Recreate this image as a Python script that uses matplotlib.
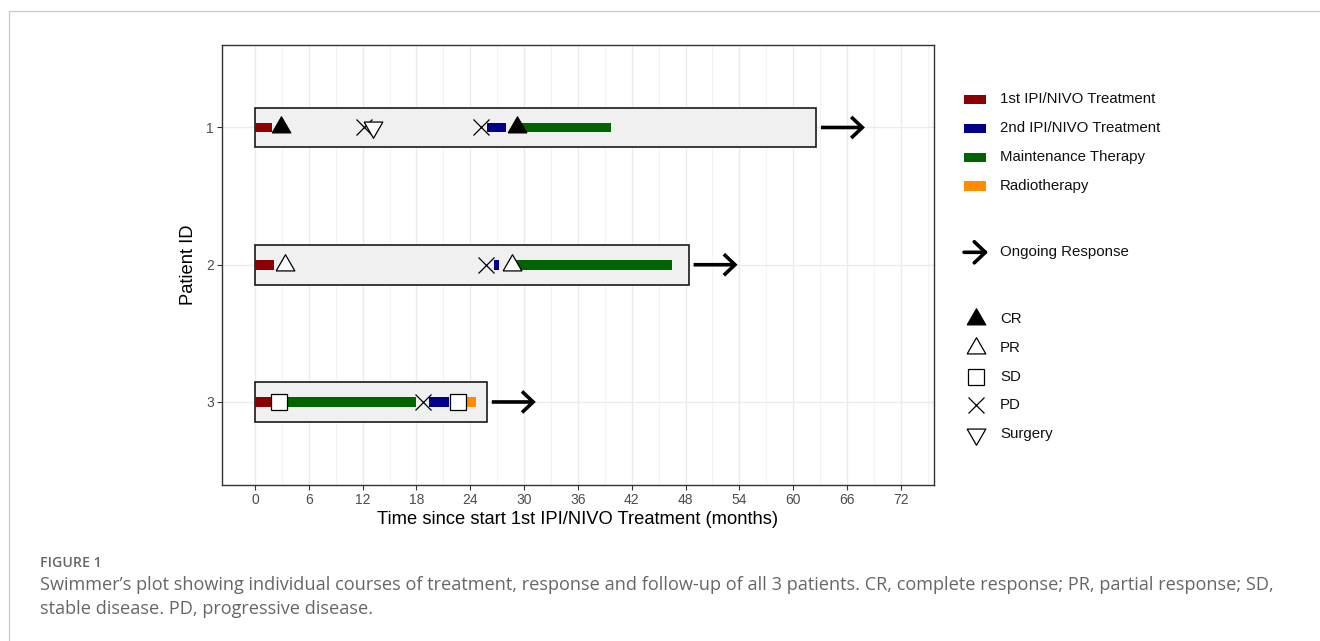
import matplotlib
matplotlib.use('Agg')
import matplotlib.pyplot as plt
from matplotlib.patches import FancyArrowPatch, Rectangle
from matplotlib.lines import Line2D

plt.rcParams['font.family'] = ['Liberation Sans', 'DejaVu Sans']

# ---------------- data ----------------
patients = [1, 2, 3]
followup_end = [62.6, 48.4, 25.9]
ongoing_patient = [1, 2, 3]
ongoing_start = [62.6, 48.4, 25.9]

ipi1_patient = [1, 2, 3]
ipi1_start = [0.0, 0.0, 0.0]
ipi1_end = [1.9, 2.1, 1.9]

ipi2_patient = [1, 2, 3]
ipi2_start = [25.9, 26.6, 19.4]
ipi2_end = [28.0, 27.2, 21.6]

maint_patient = [1, 2, 3]
maint_start = [29.2, 28.8, 3.6]
maint_end = [39.7, 46.5, 18.0]

radio_patient = [3]
radio_start = [23.5]
radio_end = [24.6]

cr_patient = [1, 1]
cr_time = [2.9, 29.2]
pr_patient = [2, 2]
pr_time = [3.3, 28.6]
sd_patient = [3, 3]
sd_time = [2.7, 22.6]
pd_patient = [1, 1, 2, 3]
pd_time = [12.1, 25.2, 25.7, 18.7]
surgery_patient = [1]
surgery_time = [13.1]

x_ticks = [0, 6, 12, 18, 24, 30, 36, 42, 48, 54, 60, 66, 72]
x_minor = [3, 9, 15, 21, 27, 33, 39, 45, 51, 57, 63, 69, 75]

treat_labels = ['1st IPI/NIVO Treatment', '2nd IPI/NIVO Treatment',
                'Maintenance Therapy', 'Radiotherapy']
treat_colors = ['#8B0000', '#00008B', '#006400', '#FF8C00']
resp_labels = ['CR', 'PR', 'SD', 'PD', 'Surgery']

# ---------------- figure ----------------
W, H = 1320, 641
fig = plt.figure(figsize=(W / 100, H / 100), dpi=100)

ax_l, ax_r, ax_t, ax_b = 222, 934, 45, 485
ax = fig.add_axes([ax_l / W, 1 - ax_b / H, (ax_r - ax_l) / W, (ax_b - ax_t) / H])

ax.set_xlim(-3.68, 75.7)
ax.set_ylim(3.605, 0.399)

# grid
ax.set_xticks(x_ticks)
ax.set_xticks(x_minor, minor=True)
ax.set_yticks(patients)
ax.grid(which='major', axis='both', color='#EBEBEB', lw=1.0, zorder=0)
ax.grid(which='minor', axis='x', color='#F3F3F3', lw=0.8, zorder=0)
ax.set_axisbelow(True)
ax.tick_params(which='minor', length=0)
ax.tick_params(which='major', length=3.5, width=0.8, color='#333333',
               labelcolor='#4D4D4D', labelsize=10, pad=2.5)
for s in ax.spines.values():
    s.set_color('#333333')
    s.set_linewidth(1.0)

# follow-up boxes
ax.barh(patients, followup_end, left=0, height=0.29, color='#F0F0F0',
        edgecolor='#1A1A1A', linewidth=1.2, zorder=1)

bar_h = 0.072
def seg(pat, st, en, col):
    ax.barh(pat, [e - s for s, e in zip(st, en)], left=st, height=bar_h,
            color=col, edgecolor='none', zorder=2)

seg(ipi1_patient, ipi1_start, ipi1_end, treat_colors[0])
seg(ipi2_patient, ipi2_start, ipi2_end, treat_colors[1])
seg(maint_patient, maint_start, maint_end, treat_colors[2])
seg(radio_patient, radio_start, radio_end, treat_colors[3])

tri_up = [(-1, -0.58), (1, -0.58), (0, 1.15), (-1, -0.58)]
tri_dn = [(-1, 0.58), (1, 0.58), (0, -1.15), (-1, 0.58)]
msz = 15.5

ax.plot(cr_time, cr_patient, ls='none', marker=tri_up, ms=msz, mfc='black',
        mec='black', mew=0.8, zorder=4)
ax.plot(pr_time, pr_patient, ls='none', marker=tri_up, ms=msz, mfc='white',
        mec='black', mew=0.9, zorder=4)
ax.plot(sd_time, sd_patient, ls='none', marker='s', ms=11, mfc='white',
        mec='black', mew=0.9, zorder=4)
ax.plot(pd_time, pd_patient, ls='none', marker='x', ms=11.5, mec='black',
        mew=0.9, zorder=4)
ax.plot(surgery_time, surgery_patient, ls='none', marker=tri_dn, ms=msz,
        mfc='white', mec='black', mew=0.9, zorder=4)

arrow_gap, arrow_len = 0.5, 4.9
arrow_style = '->,head_length=0.4,head_width=0.38'
for p, st in zip(ongoing_patient, ongoing_start):
    ar = FancyArrowPatch((st + arrow_gap, p), (st + arrow_gap + arrow_len, p),
                         arrowstyle=arrow_style,
                         mutation_scale=20, lw=2.6, color='black',
                         shrinkA=0, shrinkB=0, zorder=5,
                         capstyle='butt', joinstyle='miter')
    ax.add_patch(ar)

ax.set_xlabel('Time since start 1st IPI/NIVO Treatment (months)',
              fontsize=13.2, color='black', labelpad=3)
ax.set_ylabel('Patient ID', fontsize=13.2, color='black', labelpad=6)

# ---------------- legend (overlay in pixel coords) ----------------
lax = fig.add_axes([0, 0, 1, 1], zorder=10)
lax.set_xlim(0, W)
lax.set_ylim(H, 0)
lax.axis('off')
lax.patch.set_alpha(0)

leg_fs = 10.8
key_x0, key_x1, text_x = 964, 986, 1000
treat_y = [99.3, 128.5, 157.3, 186.0]
for lab, col, y in zip(treat_labels, treat_colors, treat_y):
    lax.add_patch(Rectangle((key_x0, y - 4.7), key_x1 - key_x0, 9.4,
                            facecolor=col, edgecolor='none'))
    lax.text(text_x, y, lab, fontsize=leg_fs, va='center', ha='left',
             color='#111111')

arr_y = 252.3
lax.add_patch(FancyArrowPatch((key_x0, arr_y), (key_x1 + 2, arr_y),
                              arrowstyle=arrow_style,
                              mutation_scale=20, lw=2.6, color='black',
                              shrinkA=0, shrinkB=0))
lax.text(text_x, arr_y, 'Ongoing Response', fontsize=leg_fs, va='center',
         ha='left', color='#111111')

resp_y = [319.0, 347.7, 376.7, 405.0, 434.0]
resp_style = [
    dict(marker=tri_up, ms=msz, mfc='black', mec='black', mew=0.8),
    dict(marker=tri_up, ms=msz, mfc='white', mec='black', mew=0.9),
    dict(marker='s', ms=11, mfc='white', mec='black', mew=0.9),
    dict(marker='x', ms=11.5, mec='black', mew=0.9),
    dict(marker=tri_dn, ms=msz, mfc='white', mec='black', mew=0.9),
]
for lab, y, st in zip(resp_labels, resp_y, resp_style):
    lax.plot([975.5], [y], ls='none', **st)
    lax.text(text_x, y, lab, fontsize=leg_fs, va='center', ha='left',
             color='#111111')

# outer frame lines
lax.plot([9, W], [11, 11], color='#C8C8C8', lw=0.9, solid_capstyle='butt')
lax.plot([9, 9], [11, H], color='#C8C8C8', lw=0.9, solid_capstyle='butt')

# caption
cap_font = ['Open Sans', 'DejaVu Sans']
lax.text(40, 567, 'FIGURE 1', fontsize=10.2, color='#666666',
         family=cap_font, fontweight='semibold', va='baseline', ha='left')
lax.text(40, 590, 'Swimmer\u2019s plot showing individual courses of treatment, '
         'response and follow-up of all 3 patients. CR, complete response; '
         'PR, partial response; SD,', fontsize=13.1, color='#666666',
         family=cap_font, va='baseline', ha='left')
lax.text(40, 614, 'stable disease. PD, progressive disease.', fontsize=13.1,
         color='#666666', family=cap_font, va='baseline', ha='left')

fig.savefig('out.png', dpi=100)
